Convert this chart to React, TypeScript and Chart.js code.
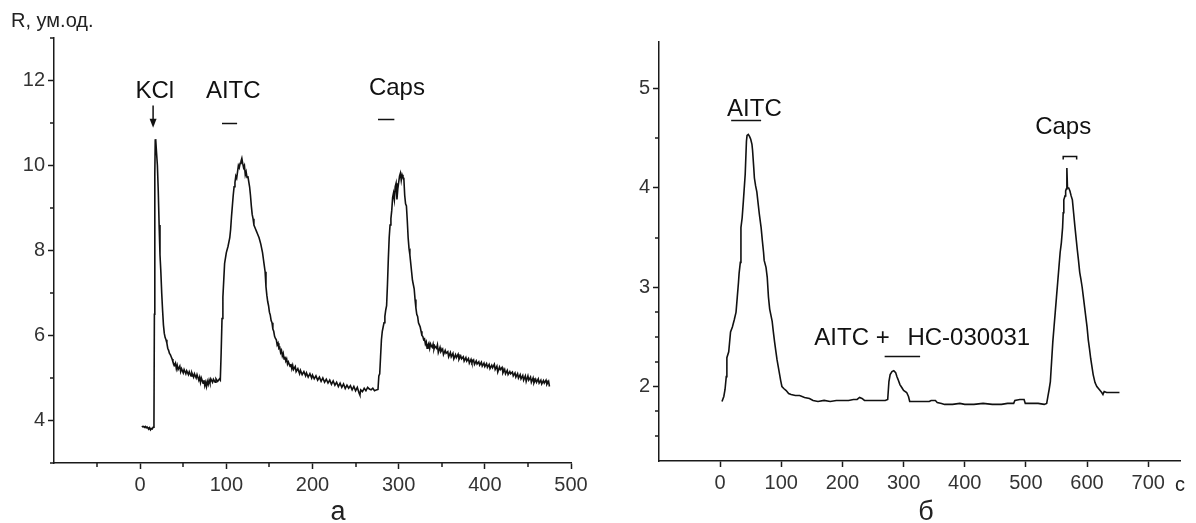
import React, { useEffect, useRef } from "react";
import { Chart, registerables } from "chart.js";
Chart.register(...registerables);

const FONT = "'Liberation Sans', Arial, Helvetica, sans-serif";
const INK = "#1a1a1a";
const LABEL = "#333333";

// Panel "а": time (s) vs R
const traceA: number[][] = [
  [2,3.87],[3,3.85],[4,3.86],[5,3.84],[6,3.86],[7,3.83],[8,3.85],[9,3.82],[10,3.8],[11,3.83],[12,3.78],[13,3.81],[14,3.8],[15,3.84],[16,3.95],
  [16.5,6.5],[17,9.8],[17.5,10.6],[18,10.62],[19,10.3],[20,10.0],[21,9.4],[22,8.6],[23,7.9],[24,7.5],[25,7.0],[26,6.6],[27,6.25],[28,6.05],[29,5.95],[30,5.9],
  [31,5.82],[32,5.7],[33,5.65],[34,5.58],[35,5.55],[36,5.5],[37,5.45],[38,5.38],[40,5.3],[41,5.35],[42,5.22],[43,5.3],[44,5.2],[46,5.28],[47,5.15],[48,5.22],
  [50,5.12],[51,5.2],[53,5.1],[54,5.17],[56,5.08],[57,5.15],[59,5.05],[60,5.12],[62,5.02],[63,5.1],[65,5.0],[66,5.08],[68,4.95],[69,5.02],[70,4.9],[71,5.0],
  [73,4.88],[74,4.95],[75,4.82],[76,4.9],[77,4.8],[78,4.92],[79,4.85],[80,4.95],[81,4.88],[82,4.98],[84,4.9],[85,4.97],[87,4.9],[88,4.98],[90,4.92],[92,4.98],[93,4.95],
  [94,5.6],[95,6.4],[96,6.9],[97,7.3],[98,7.7],[100,7.95],[102,8.1],[104,8.3],[105,8.5],[106,8.8],[107,9.05],[108,9.3],[109,9.5],[110,9.6],[111,9.75],[112,9.7],
  [113,9.85],[114,10.0],[115,9.95],[116,10.05],[117,10.1],[118,10.17],[119,10.05],[120,9.95],[121,10.0],[122,9.78],[123,9.85],[124,9.72],[125,9.75],[126,9.62],
  [127,9.5],[128,9.3],[129,9.05],[130,8.85],[131,8.75],[132,8.6],[134,8.5],[135,8.45],[136,8.4],[138,8.3],[140,8.15],[141,8.05],[142,7.95],[143,7.8],[144,7.65],
  [145,7.5],[146,7.15],[147,6.95],[148,6.8],[149,6.7],[150,6.55],[151,6.48],[152,6.35],[153,6.3],[154,6.15],[155,6.1],[156,5.98],[157,5.93],[158,5.9],[159,5.78],
  [160,5.82],[161,5.7],[162,5.72],[163,5.6],[164,5.65],[165,5.52],[166,5.58],[167,5.45],[168,5.5],[169,5.4],[170,5.45],[171,5.33],[172,5.38],[174,5.27],[175,5.33],
  [176,5.22],[177,5.3],[178,5.2],[180,5.27],[181,5.15],[183,5.22],[185,5.1],[186,5.18],[188,5.08],[190,5.15],[192,5.05],[193,5.12],[195,5.02],[197,5.1],[199,5.0],
  [200,5.07],[202,4.98],[204,5.05],[206,4.95],[208,5.02],[210,4.92],[212,5.0],[214,4.9],[216,4.97],[218,4.88],[220,4.95],[222,4.85],[224,4.93],[226,4.83],[228,4.9],
  [230,4.8],[232,4.88],[234,4.78],[236,4.86],[238,4.75],[240,4.83],[242,4.76],[244,4.82],[246,4.72],[248,4.8],[250,4.7],[252,4.78],[254,4.65],[255,4.6],[256,4.72],
  [258,4.68],[260,4.76],[262,4.7],[264,4.78],[266,4.74],[268,4.72],[270,4.76],[272,4.7],[274,4.72],[276,4.73],
  [277,5.05],[278,5.1],[279,5.5],[280,5.9],[281,6.1],[282,6.2],[283,6.3],[284,6.45],[285,6.6],[286,6.7],[287,7.2],[288,7.8],[289,8.3],[290,8.6],[291,8.75],[292,8.95],
  [293,9.25],[294,9.35],[295,9.2],[296,9.5],[297,9.58],[298,9.2],[299,9.45],[300,9.6],[301,9.75],[302,9.82],[303,9.65],[304,9.78],[305,9.72],[306,9.7],[307,9.3],
  [308,9.1],[309,9.05],[310,8.7],[311,8.3],[312,8.05],[313,7.9],[314,7.7],[315,7.5],[316,7.3],[317,7.2],[318,7.1],[319,6.85],[320,6.65],[321,6.5],[322,6.45],
  [323,6.3],[324,6.25],[325,6.2],[326,6.1],[327,6.0],[328,5.98],[329,5.9],[330,5.92],[331,5.8],[332,5.85],[333,5.7],[334,5.78],[335,5.82],[336,5.7],[337,5.8],
  [338,5.75],[339,5.72],[340,5.8],[341,5.68],[342,5.75],[344,5.7],[345,5.78],[346,5.6],[348,5.72],[349,5.62],[351,5.68],[352,5.55],[354,5.65],[355,5.58],[357,5.62],
  [358,5.5],[360,5.6],[361,5.5],[363,5.58],[364,5.45],[366,5.55],[367,5.48],[369,5.56],[370,5.44],[372,5.52],[373,5.45],[375,5.5],[376,5.4],[378,5.48],[379,5.4],
  [381,5.46],[382,5.35],[384,5.44],[385,5.36],[387,5.42],[388,5.32],[390,5.4],[391,5.33],[393,5.38],[394,5.3],[396,5.37],[397,5.28],[399,5.35],[400,5.27],[402,5.34],
  [403,5.25],[405,5.32],[406,5.22],[408,5.3],[409,5.24],[411,5.32],[412,5.2],[414,5.28],[415,5.14],[417,5.26],[418,5.2],[420,5.25],[421,5.12],[423,5.2],[424,5.1],
  [426,5.18],[427,5.08],[429,5.15],[430,5.1],[432,5.14],[433,5.05],[435,5.12],[436,5.02],[438,5.1],[439,5.0],[441,5.08],[442,4.98],[444,5.06],[445,4.95],[447,5.05],
  [448,4.92],[450,5.05],[451,4.95],[453,5.02],[454,4.9],[456,5.0],[457,4.88],[459,4.97],[460,4.9],[462,4.98],[463,4.88],[465,4.95],[466,4.86],[468,4.94],[469,4.88],
  [471,4.95],[472,4.85],[474,4.92],[475,4.8]
];

// Panel "б": time (s) vs R
const traceB: number[][] = [
  [3,1.85],[6,1.9],[8,1.97],[10,2.1],[11,2.29],[14,2.35],[17,2.55],[20,2.6],[23,2.67],[26,2.75],[28,2.9],[30,3.05],[31,3.14],[33,3.25],[34,3.6],[36,3.7],
  [38,3.87],[41,4.14],[43,4.47],[44,4.53],[46,4.54],[48,4.52],[50,4.49],[52,4.44],[53,4.38],[55,4.2],[56,4.1],[58,4.02],[60,3.96],[62,3.85],[64,3.74],[67,3.6],
  [69,3.47],[71,3.35],[72,3.27],[75,3.2],[77,3.1],[79,2.9],[81,2.78],[83,2.72],[85,2.66],[87,2.55],[89,2.45],[91,2.36],[93,2.27],[95,2.2],[97,2.13],[99,2.06],
  [101,2.0],[104,1.98],[108,1.96],[112,1.93],[116,1.92],[123,1.91],[130,1.91],[138,1.89],[146,1.88],[152,1.86],[160,1.85],[170,1.86],[180,1.85],[190,1.86],
  [200,1.86],[210,1.86],[218,1.87],[224,1.87],[228,1.89],[232,1.88],[236,1.86],[250,1.86],[262,1.86],[270,1.86],[274,1.87],
  [276,2.05],[278,2.12],[281,2.15],[284,2.16],[287,2.14],[289,2.1],[291,2.07],[294,2.02],[297,1.99],[300,1.96],[305,1.94],[308,1.9],[310,1.85],
  [320,1.85],[335,1.85],[342,1.85],[345,1.86],[352,1.86],[355,1.84],[362,1.83],[367,1.82],[380,1.82],[392,1.83],[400,1.82],[415,1.82],[430,1.83],[445,1.82],
  [460,1.82],[470,1.83],[480,1.83],[482,1.86],[490,1.87],[497,1.87],[499,1.83],[510,1.83],[520,1.83],[530,1.82],[534,1.83],
  [536,1.9],[538,1.97],[540,2.05],[542,2.25],[544,2.45],[546,2.6],[548,2.75],[550,2.9],[552,3.05],[554,3.2],[556,3.35],[558,3.45],[560,3.6],[561,3.75],[562,3.88],
  [564,3.92],[565,3.97],[566,3.99],[567,4.2],[568,4.0],[570,4.0],[572,3.97],[574,3.92],[576,3.88],[578,3.75],[580,3.62],[582,3.5],[584,3.38],[586,3.27],[588,3.15],
  [590,3.08],[592,3.0],[594,2.9],[596,2.8],[598,2.7],[600,2.6],[602,2.47],[604,2.38],[606,2.28],[608,2.2],[610,2.12],[613,2.04],[616,2.0],[620,1.97],[624,1.94],
  [626,1.92],[628,1.95],[632,1.94],[640,1.94],[653,1.94]
];

// Axis ticks
const tickAX = [-100, -50, 0, 50, 100, 150, 200, 250, 300, 350, 400, 450, 500];
const labelAX = [0, 100, 200, 300, 400, 500];
const tickAY = [3, 4, 5, 6, 7, 8, 9, 10, 11, 12, 13];
const labelAY = [4, 6, 8, 10, 12];
const tickBX = [0, 100, 200, 300, 400, 500, 600, 700];
const labelBX = [0, 100, 200, 300, 400, 500, 600, 700];
const tickBY = [1.5, 1.75, 2, 2.25, 2.5, 2.75, 3, 3.5, 4, 4.5, 5];
const labelBY = [2, 3, 4, 5];

// Annotations (data coordinates)
const textsA = [
  { text: "KCl", x: 17, y: 11.6, align: "center" },
  { text: "AITC", x: 108, y: 11.58, align: "center" },
  { text: "Caps", x: 298, y: 11.67, align: "center" },
];
const barsA = [
  { x0: 95, x1: 112.5, y: 10.99 },
  { x0: 276, x1: 295, y: 11.1 },
];
const arrowsA = [{ x: 15, y0: 11.41, y1: 10.89 }];

const textsB = [
  { text: "AITC", x: 56, y: 4.72, align: "center" },
  { text: "AITC +", x: 154, y: 2.42, align: "left" },
  { text: "HC-030031", x: 507, y: 2.42, align: "right" },
  { text: "Caps", x: 561, y: 4.54, align: "center" },
];
const barsB = [
  { x0: 18, x1: 67, y: 4.68 },
  { x0: 269, x1: 327, y: 2.31 },
];
const bracketsB = [{ x0: 561, x1: 583, y: 4.32 }];

type PanelCfg = {
  trace: number[][];
  xMin: number; xMax: number; yMin: number; yMax: number;
  tickX: number[]; labelX: number[]; tickY: number[]; labelY: number[];
  yWidth: number; xHeight: number;
  pad: { top: number; right: number; left: number; bottom: number };
  texts: any[]; bars: any[]; arrows: any[]; brackets: any[];
  extra: (ctx: CanvasRenderingContext2D, chart: any) => void;
};

function makeChart(canvas: HTMLCanvasElement, p: PanelCfg) {
  const annot = {
    id: "annot",
    afterDraw(chart: any) {
      const ctx = chart.ctx as CanvasRenderingContext2D;
      const xs = chart.scales.x;
      const ys = chart.scales.y;
      ctx.save();
      // minor ticks
      ctx.strokeStyle = INK;
      ctx.lineWidth = 1.5;
      for (const v of p.tickX) {
        if (p.labelX.includes(v) || v === p.xMin) continue;
        const px = Math.round(xs.getPixelForValue(v));
        ctx.beginPath();
        ctx.moveTo(px, chart.chartArea.bottom);
        ctx.lineTo(px, chart.chartArea.bottom + 4);
        ctx.stroke();
      }
      for (const v of p.tickY) {
        if (p.labelY.includes(v)) continue;
        const py = Math.round(ys.getPixelForValue(v));
        ctx.beginPath();
        ctx.moveTo(chart.chartArea.left, py);
        ctx.lineTo(chart.chartArea.left - 4, py);
        ctx.stroke();
      }
      // annotation texts
      ctx.fillStyle = "#111";
      ctx.font = `24px ${FONT}`;
      ctx.textBaseline = "alphabetic";
      for (const t of p.texts) {
        ctx.textAlign = t.align;
        ctx.fillText(t.text, xs.getPixelForValue(t.x), ys.getPixelForValue(t.y));
      }
      ctx.lineWidth = 1.5;
      ctx.strokeStyle = "#111";
      for (const b of p.bars) {
        const py = Math.round(ys.getPixelForValue(b.y)) + 0.5;
        ctx.beginPath();
        ctx.moveTo(xs.getPixelForValue(b.x0), py);
        ctx.lineTo(xs.getPixelForValue(b.x1), py);
        ctx.stroke();
      }
      for (const b of p.brackets) {
        const py = Math.round(ys.getPixelForValue(b.y)) + 0.5;
        const a = xs.getPixelForValue(b.x0);
        const c = xs.getPixelForValue(b.x1);
        ctx.beginPath();
        ctx.moveTo(a, py + 3);
        ctx.lineTo(a, py);
        ctx.lineTo(c, py);
        ctx.lineTo(c, py + 3);
        ctx.stroke();
      }
      for (const ar of p.arrows) {
        const px = xs.getPixelForValue(ar.x);
        const y0 = ys.getPixelForValue(ar.y0);
        const y1 = ys.getPixelForValue(ar.y1);
        ctx.beginPath();
        ctx.moveTo(px, y0);
        ctx.lineTo(px, y1 - 8);
        ctx.stroke();
        ctx.beginPath();
        ctx.moveTo(px - 3.5, y1 - 9);
        ctx.lineTo(px + 3.5, y1 - 9);
        ctx.lineTo(px, y1);
        ctx.closePath();
        ctx.fill();
      }
      p.extra(ctx, chart);
      ctx.restore();
    },
  };

  const tickFont = { family: FONT, size: 20 };
  return new Chart(canvas, {
    type: "line",
    data: {
      datasets: [
        {
          data: p.trace.map((d) => ({ x: d[0], y: d[1] })),
          borderColor: "#111",
          borderWidth: 1.6,
          pointRadius: 0,
          tension: 0,
          fill: false,
        },
      ],
    },
    options: {
      animation: false,
      responsive: false,
      devicePixelRatio: 1,
      layout: { padding: p.pad },
      plugins: { legend: { display: false }, tooltip: { enabled: false }, title: { display: false } },
      scales: {
        x: {
          type: "linear",
          min: p.xMin,
          max: p.xMax,
          afterBuildTicks: (s: any) => { s.ticks = p.tickX.map((v) => ({ value: v })); },
          afterFit: (s: any) => { s.height = p.xHeight; },
          ticks: {
            autoSkip: false, maxRotation: 0, minRotation: 0, color: LABEL, font: tickFont, padding: 4,
            callback: (v: any) => (p.labelX.includes(v) ? String(v) : ""),
          },
          grid: {
            drawOnChartArea: false, drawTicks: true, tickLength: 6, tickWidth: 1.5,
            tickColor: (c: any) => (c.tick && p.labelX.includes(c.tick.value) ? INK : "rgba(0,0,0,0)"),
          },
          border: { display: true, color: INK, width: 1.5 },
        },
        y: {
          type: "linear",
          min: p.yMin,
          max: p.yMax,
          afterBuildTicks: (s: any) => { s.ticks = p.tickY.map((v) => ({ value: v })); },
          afterFit: (s: any) => { s.width = p.yWidth; },
          ticks: {
            autoSkip: false, color: LABEL, font: tickFont, padding: 3,
            callback: (v: any) => (p.labelY.includes(v) ? String(v) : ""),
          },
          grid: {
            drawOnChartArea: false, drawTicks: true, tickLength: 6, tickWidth: 1.5,
            tickColor: (c: any) => (c.tick && p.labelY.includes(c.tick.value) ? INK : "rgba(0,0,0,0)"),
          },
          border: { display: true, color: INK, width: 1.5 },
        },
      },
    },
    plugins: [annot],
  } as any);
}

export default function App() {
  const refA = useRef<HTMLCanvasElement>(null);
  const refB = useRef<HTMLCanvasElement>(null);

  useEffect(() => {
    const a = makeChart(refA.current!, {
      trace: traceA, xMin: -100, xMax: 500, yMin: 3, yMax: 13,
      tickX: tickAX, labelX: labelAX, tickY: tickAY, labelY: labelAY,
      yWidth: 54, xHeight: 60, pad: { top: 38, right: 29, left: 0, bottom: 0 },
      texts: textsA, bars: barsA, arrows: arrowsA, brackets: [],
      extra: (ctx) => {
        ctx.fillStyle = "#222";
        ctx.textAlign = "left";
        ctx.font = `20px ${FONT}`;
        ctx.fillText("R, ум.од.", 11, 27);
        ctx.textAlign = "center";
        ctx.font = `27px ${FONT}`;
        ctx.fillText("а", 338, 520);
      },
    });
    const b = makeChart(refB.current!, {
      trace: traceB, xMin: -100, xMax: 752, yMin: 1.25, yMax: 5.47,
      tickX: tickBX, labelX: labelBX, tickY: tickBY, labelY: labelBY,
      yWidth: 59, xHeight: 62, pad: { top: 42, right: 16, left: 0, bottom: 0 },
      texts: textsB, bars: barsB, arrows: [], brackets: bracketsB,
      extra: (ctx) => {
        ctx.fillStyle = "#222";
        ctx.textAlign = "center";
        ctx.font = `20px ${FONT}`;
        ctx.fillText("с", 580, 491);
        ctx.font = `27px ${FONT}`;
        ctx.fillText("б", 326, 520);
      },
    });
    return () => { a.destroy(); b.destroy(); };
  }, []);

  return (
    <div style={{ position: "absolute", left: 0, top: 0, width: 1196, height: 523, background: "#fff" }}>
      <canvas ref={refA} width={600} height={523} style={{ position: "absolute", left: 0, top: 0, width: 600, height: 523 }} />
      <canvas ref={refB} width={596} height={523} style={{ position: "absolute", left: 600, top: 0, width: 596, height: 523 }} />
    </div>
  );
}
